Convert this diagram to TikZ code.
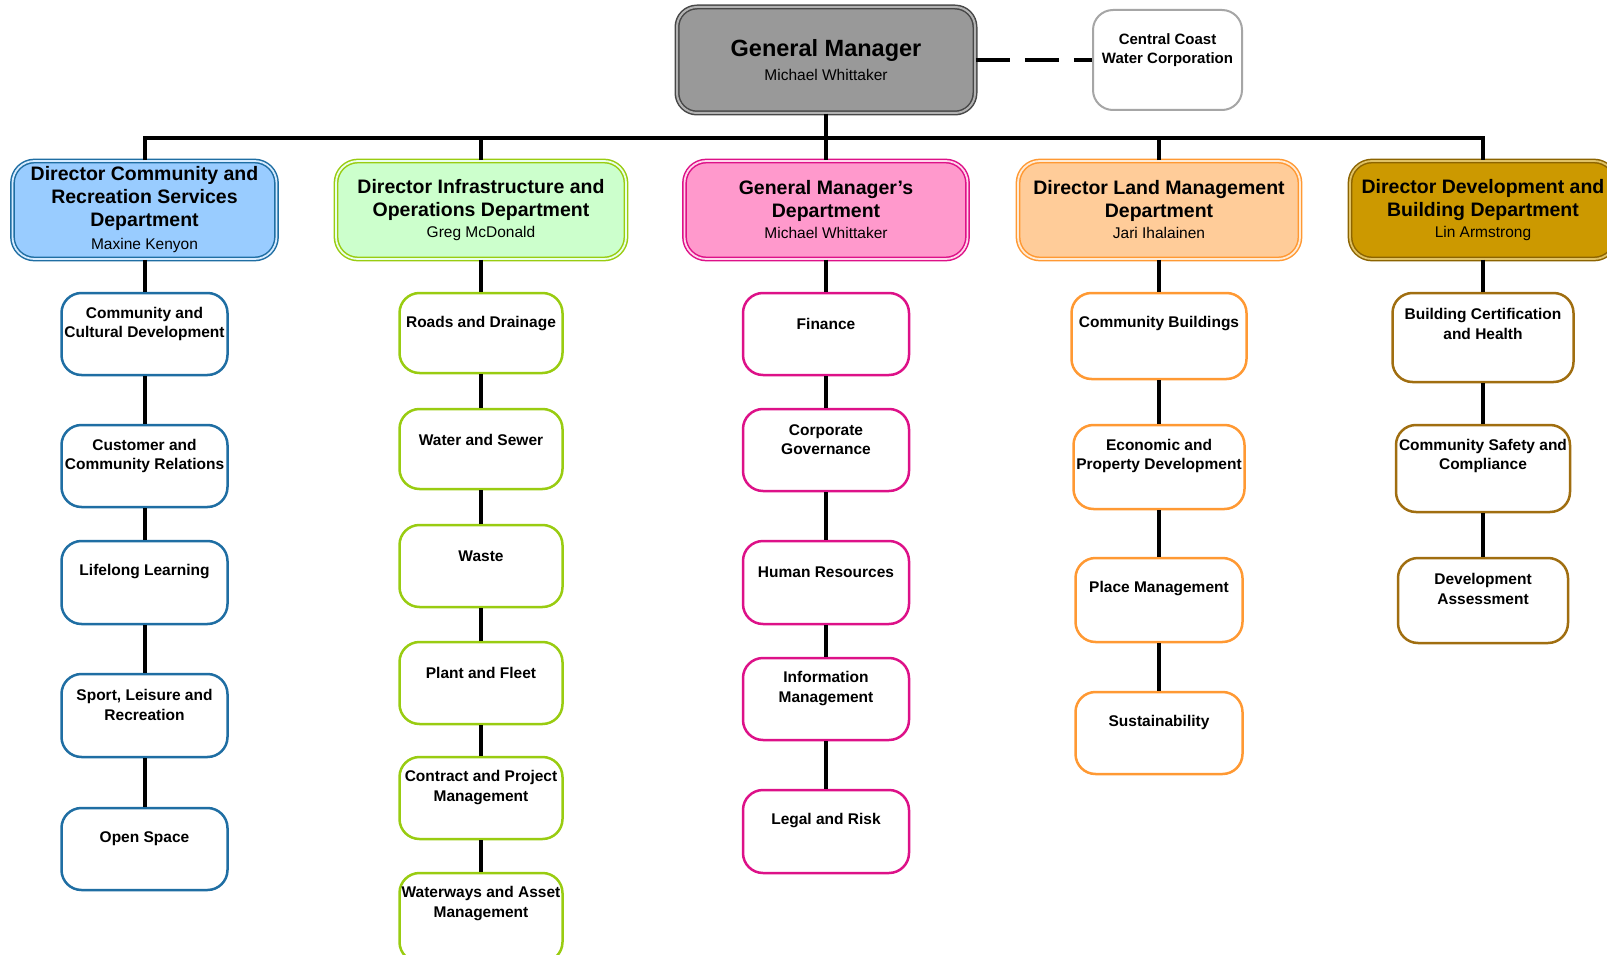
\documentclass[tikz,border=0pt]{standalone}
\usepackage{fontspec}
\setmainfont{Liberation Sans}
\definecolor{cblue}{HTML}{1F6EA3}
\definecolor{fblue}{HTML}{99CCFF}
\definecolor{cgreen}{HTML}{99CC11}
\definecolor{fgreen}{HTML}{CCFFCC}
\definecolor{cpink}{HTML}{DD1188}
\definecolor{fpink}{HTML}{FF99CC}
\definecolor{corange}{HTML}{FF9933}
\definecolor{forange}{HTML}{FFCC99}
\definecolor{cgold}{HTML}{A06E10}
\definecolor{fgold}{HTML}{CC9900}
\definecolor{dgold}{HTML}{8C6400}
\tikzset{
  conn/.style={line width=4pt, black},
  dashconn/.style={line width=4pt, black, dash pattern=on 34pt off 15pt},
  gmbox/.style={rounded corners=20pt, draw=black!72, double=black!30, line width=1.5pt, double distance=2pt, fill=black!40, align=center, font=\bfseries\fontsize{23.5}{24}\selectfont},
  ccbox/.style={rounded corners=20pt, draw=black!35, line width=2pt, fill=white},
  dirbox/.style={rounded corners=22pt, line width=1.5pt, double distance=1.8pt, minimum height=98pt, align=center, inner sep=2pt, font=\bfseries\fontsize{19.5}{23}\selectfont},
  childbox/.style={draw, rounded corners=20pt, line width=2.5pt, fill=white},
  childtext/.style={font=\bfseries\fontsize{15.5}{19.5}\selectfont, align=center, inner sep=0pt},
}
\newcommand\dirname[1]{{\mdseries\fontsize{15.5}{23}\selectfont #1}}
% name, x, top, bottom, width, colour, text
\newcommand\orgchild[7]{%
  \node[childbox, draw=#6, minimum width=#5pt, minimum height=#4pt-#3pt] (#1) at (#2,{(#3+#4)/2}) {};
  \node[childtext] (#1t) at ([yshift=-32pt]#1.north) {#7};
}
\begin{document}
\begin{tikzpicture}[x=1pt,y=-1pt]
\clip (0,0) rectangle (1607,955);
\fill[white] (0,0) rectangle (1607,955);

% top level
\node[gmbox, minimum width=298pt, minimum height=106pt] (gm) at (826,60)
  {General Manager\\{\mdseries\fontsize{15.5}{24}\selectfont Michael Whittaker}};
\node[ccbox, minimum width=149pt, minimum height=100pt] (cc) at (1167.5,60) {};
\node[childtext, font=\bfseries\fontsize{15}{19.5}\selectfont] (cct) at ([yshift=-41pt]cc.north) {Central Coast\\Water Corporation};
\draw[dashconn] (gm) -- (cc);

% directors
\node[dirbox, draw=cblue, double=fblue!40!white, fill=fblue, minimum width=264pt] (d1) at (144.5,210)
  {Director Community and\\Recreation Services\\Department\\\dirname{Maxine Kenyon}};
\node[dirbox, draw=cgreen, double=fgreen!40!white, fill=fgreen, minimum width=290pt] (d2) at (481,210)
  {Director Infrastructure and\\Operations Department\\[-2pt]\dirname{Greg McDonald}};
\node[dirbox, draw=cpink, double=fpink!40!white, fill=fpink, minimum width=283pt] (d3) at (826,210)
  {General Manager’s\\Department\\[-2pt]\dirname{Michael Whittaker}};
\node[dirbox, draw=corange, double=forange!40!white, fill=forange, minimum width=282pt] (d4) at (1159,210)
  {Director Land Management\\Department\\[-2pt]\dirname{Jari Ihalainen}};
\node[dirbox, draw=dgold, double=fgold!60!white, fill=fgold, minimum width=266pt] (d5) at (1483,210)
  {Director Development and\\Building Department\\[-2pt]\dirname{Lin Armstrong}};

% bus
\coordinate (busy) at (0,138);
\draw[conn] (d1.north) -- (d1.north |- busy) -- (d5.north |- busy) -- (d5.north);
\draw[conn] (d2.north) -- (d2.north |- busy);
\draw[conn] (d4.north) -- (d4.north |- busy);
\draw[conn] (gm) -- (d3);

% column 1
\orgchild{c11}{144.5}{293}{375}{166}{cblue}{Community and\\Cultural Development}
\orgchild{c12}{144.5}{425}{507}{166}{cblue}{Customer and\\Community Relations}
\orgchild{c13}{144.5}{541}{624}{166}{cblue}{Lifelong Learning}
\orgchild{c14}{144.5}{674}{757}{166}{cblue}{Sport, Leisure and\\Recreation}
\orgchild{c15}{144.5}{808}{890}{166}{cblue}{Open Space}
% column 2
\orgchild{c21}{481}{293}{373}{163}{cgreen}{Roads and Drainage}
\orgchild{c22}{481}{409}{489}{163}{cgreen}{Water and Sewer}
\orgchild{c23}{481}{525}{607}{163}{cgreen}{Waste}
\orgchild{c24}{481}{642}{724}{163}{cgreen}{Plant and Fleet}
\orgchild{c25}{481}{757}{839}{163}{cgreen}{Contract and Project\\Management}
\orgchild{c26}{481}{873}{962}{163}{cgreen}{Waterways and Asset\\Management}
% column 3
\orgchild{c31}{826}{293}{375}{166}{cpink}{Finance}
\orgchild{c32}{826}{409}{491}{166}{cpink}{Corporate\\Governance}
\orgchild{c33}{826}{541}{624}{166}{cpink}{Human Resources}
\orgchild{c34}{826}{658}{740}{166}{cpink}{Information\\Management}
\orgchild{c35}{826}{790}{873}{166}{cpink}{Legal and Risk}
% column 4
\orgchild{c41}{1159}{293}{379}{175}{corange}{Community Buildings}
\orgchild{c42}{1159}{425}{509}{171}{corange}{Economic and\\Property Development}
\orgchild{c43}{1159}{558}{642}{167}{corange}{Place Management}
\orgchild{c44}{1159}{692}{774}{167}{corange}{Sustainability}
% column 5
\orgchild{c51}{1483}{293}{382}{181}{cgold}{Building Certification\\and Health}
\orgchild{c52}{1483}{425}{512}{174}{cgold}{Community Safety and\\Compliance}
\orgchild{c53}{1483}{558}{643}{170}{cgold}{Development\\Assessment}

% vertical connectors
\draw[conn] (d1) -- (c11); \draw[conn] (c11) -- (c12); \draw[conn] (c12) -- (c13); \draw[conn] (c13) -- (c14); \draw[conn] (c14) -- (c15);
\draw[conn] (d2) -- (c21); \draw[conn] (c21) -- (c22); \draw[conn] (c22) -- (c23); \draw[conn] (c23) -- (c24); \draw[conn] (c24) -- (c25); \draw[conn] (c25) -- (c26);
\draw[conn] (d3) -- (c31); \draw[conn] (c31) -- (c32); \draw[conn] (c32) -- (c33); \draw[conn] (c33) -- (c34); \draw[conn] (c34) -- (c35);
\draw[conn] (d4) -- (c41); \draw[conn] (c41) -- (c42); \draw[conn] (c42) -- (c43); \draw[conn] (c43) -- (c44);
\draw[conn] (d5) -- (c51); \draw[conn] (c51) -- (c52); \draw[conn] (c52) -- (c53);
\end{tikzpicture}
\end{document}
